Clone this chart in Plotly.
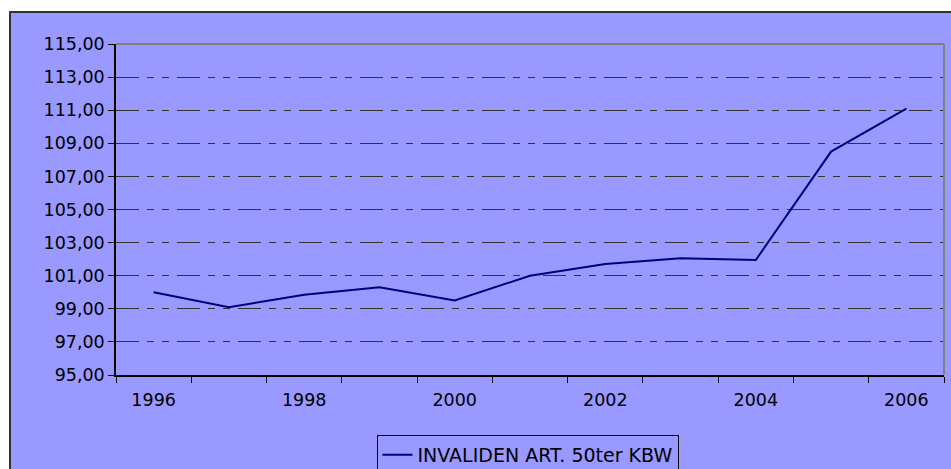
import plotly.graph_objects as go

years = [1996, 1997, 1998, 1999, 2000, 2001, 2002, 2003, 2004, 2005, 2006]
values = [100.0, 99.1, 99.85, 100.3, 99.5, 101.0, 101.7, 102.05, 101.95, 108.5, 111.1]
series_name = "INVALIDEN ART. 50ter KBW"
x_label_years = [1996, 1998, 2000, 2002, 2004, 2006]
y_ticks = [95, 97, 99, 101, 103, 105, 107, 109, 111, 113, 115]

W, H = 951, 469
EXTRA = 16  # hidden strip below the viewport so the legend needs no margin push
FH = H + EXTRA
L, R, T = 116, 7, 44
B = FH - 375
pw, ph = W - L - R, FH - T - B

def px_x(p):
    return (p - L) / pw

def px_y(p):
    return (375 - p) / ph

bg = "#9999FF"
font = dict(family="DejaVu Sans, Arial, sans-serif", size=17.5, color="black")

fig = go.Figure()
fig.add_trace(go.Scatter(
    x=years, y=values, mode="lines", name=series_name,
    line=dict(color="#000080", width=2),
))

boundaries = [y - 0.5 for y in years] + [years[-1] + 0.5]

fig.update_layout(
    width=W, height=FH,
    margin=dict(l=L, r=R, t=T, b=B, pad=0),
    paper_bgcolor="white",
    plot_bgcolor=bg,
    separators=", ",
    font=font,
    showlegend=True,
    legend=dict(
        x=px_x(527.5), xanchor="center",
        y=px_y(435), yanchor="top",
        bgcolor=bg, bordercolor="black", borderwidth=1,
        font=dict(family="DejaVu Sans, Arial, sans-serif", size=19, color="black"),
        itemwidth=30,
    ),
    xaxis=dict(
        range=[1995.5, 2006.5],
        tickmode="array", tickvals=x_label_years,
        ticktext=[str(y) for y in x_label_years],
        ticks="outside", ticklen=8, tickcolor="rgba(0,0,0,0)",
        showgrid=False, zeroline=False, automargin=False,
        showline=True, linecolor="black", linewidth=1.5,
        minor=dict(tickmode="array", tickvals=boundaries, ticks="outside",
                   ticklen=6, tickcolor="black", tickwidth=1, showgrid=False),
        tickfont=font,
    ),
    yaxis=dict(
        range=[95, 115],
        tickmode="array", tickvals=y_ticks,
        tickformat=".2f",
        ticks="outside", ticklen=6, tickcolor="black", tickwidth=1,
        showgrid=True, gridcolor="#333333", gridwidth=1,
        griddash="23px,8px,7px,8px,7px,8px",
        zeroline=False, automargin=False,
        showline=True, linecolor="black", linewidth=1.5,
        tickfont=font,
    ),
    shapes=[
        dict(type="rect", xref="paper", yref="paper",
             x0=px_x(10), x1=px_x(W + 100), y0=px_y(12), y1=px_y(FH + 100),
             fillcolor=bg, line=dict(color="#333333", width=2), layer="below"),
        dict(type="line", xref="paper", yref="paper",
             x0=0, x1=1, y0=1, y1=1, line=dict(color="#808080", width=2), layer="above"),
        dict(type="line", xref="paper", yref="paper",
             x0=1, x1=1, y0=0, y1=1, line=dict(color="#808080", width=2), layer="above"),
    ],
)

fig.write_html(
    "out.html",
    config={"displayModeBar": False},
    post_script=(
        "document.body.style.margin='0';document.body.style.padding='0';"
        "document.body.style.overflow='hidden';"
        "document.documentElement.style.overflow='hidden';"
    ),
)
